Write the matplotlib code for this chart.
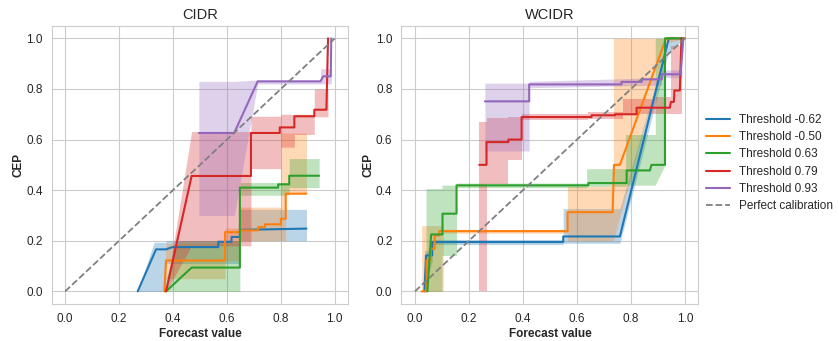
import matplotlib
matplotlib.use("Agg")
import matplotlib.pyplot as plt
import seaborn as sns

sns.set_style("whitegrid")
plt.rcParams["font.family"] = ["Liberation Sans", "DejaVu Sans"]

thresholds = ["Threshold -0.62", "Threshold -0.50", "Threshold 0.63", "Threshold 0.79", "Threshold 0.93"]
colors = ["#1f77b4", "#ff7f0e", "#2ca02c", "#d62728", "#9467bd"]
ticks = [0.0, 0.2, 0.4, 0.6, 0.8, 1.0]

# ---------------- CIDR ----------------
cidr_m062_x = [0.269, 0.337, 0.374, 0.398, 0.568, 0.568, 0.617, 0.617, 0.648, 0.648, 0.895]
cidr_m062_y = [0.0, 0.166, 0.166, 0.175, 0.175, 0.196, 0.196, 0.215, 0.215, 0.243, 0.248]
cidr_m062_bx = [0.269, 0.33, 0.374, 0.374, 0.648, 0.648, 0.895]
cidr_m062_lo = [0.0, 0.0, 0.0, 0.11, 0.11, 0.2, 0.2]
cidr_m062_hi = [0.0, 0.194, 0.194, 0.2, 0.2, 0.324, 0.324]

cidr_m050_x = [0.368, 0.374, 0.593, 0.593, 0.648, 0.648, 0.716, 0.716, 0.741, 0.741, 0.80, 0.80, 0.818, 0.818, 0.895]
cidr_m050_y = [0.0, 0.122, 0.122, 0.234, 0.234, 0.241, 0.241, 0.254, 0.254, 0.265, 0.265, 0.287, 0.287, 0.386, 0.386]
cidr_m050_bx = [0.368, 0.374, 0.593, 0.593, 0.648, 0.648, 0.80, 0.80, 0.818, 0.818, 0.895]
cidr_m050_lo = [0.0, 0.05, 0.05, 0.12, 0.12, 0.2, 0.2, 0.2, 0.2, 0.386, 0.386]
cidr_m050_hi = [0.0, 0.19, 0.19, 0.25, 0.25, 0.333, 0.333, 0.626, 0.626, 0.626, 0.626]

cidr_063_x = [0.374, 0.469, 0.648, 0.648, 0.79, 0.79, 0.831, 0.831, 0.942]
cidr_063_y = [0.0, 0.094, 0.094, 0.41, 0.41, 0.423, 0.423, 0.457, 0.457]
cidr_063_bx = [0.374, 0.42, 0.648, 0.648, 0.831, 0.831, 0.942]
cidr_063_lo = [0.0, 0.0, 0.0, 0.38, 0.38, 0.41, 0.41]
cidr_063_hi = [0.05, 0.2, 0.2, 0.43, 0.43, 0.525, 0.525]

cidr_079_x = [0.374, 0.469, 0.689, 0.689, 0.796, 0.796, 0.85, 0.85, 0.924, 0.924, 0.969, 0.975]
cidr_079_y = [0.0, 0.456, 0.456, 0.626, 0.626, 0.648, 0.648, 0.692, 0.692, 0.718, 0.718, 1.0]
cidr_079_bx = [0.374, 0.469, 0.689, 0.689, 0.80, 0.80, 0.85, 0.85, 0.924, 0.924, 0.975]
cidr_079_lo = [0.0, 0.18, 0.18, 0.485, 0.485, 0.57, 0.57, 0.62, 0.62, 0.69, 0.69]
cidr_079_hi = [0.0, 0.632, 0.632, 0.692, 0.692, 0.70, 0.70, 0.70, 0.70, 0.80, 0.80]

cidr_093_x = [0.496, 0.627, 0.714, 0.947, 0.957, 0.985, 0.987]
cidr_093_y = [0.626, 0.626, 0.83, 0.83, 0.85, 0.85, 1.0]
cidr_093_bx = [0.496, 0.627, 0.714, 0.947, 0.947, 0.987]
cidr_093_lo = [0.3, 0.3, 0.82, 0.82, 0.82, 0.82]
cidr_093_hi = [0.83, 0.83, 0.835, 0.835, 0.88, 0.88]

# ---------------- WCIDR ----------------
wcidr_m062_x = [0.035, 0.041, 0.064, 0.064, 0.549, 0.549, 0.759, 0.94, 1.0]
wcidr_m062_y = [0.0, 0.142, 0.142, 0.195, 0.195, 0.217, 0.217, 1.0, 1.0]
wcidr_m062_bx = [0.035, 0.064, 0.064, 0.549, 0.549, 0.759, 0.94, 1.0]
wcidr_m062_lo = [0.0, 0.12, 0.185, 0.185, 0.19, 0.19, 0.95, 1.0]
wcidr_m062_hi = [0.16, 0.16, 0.205, 0.205, 0.327, 0.327, 1.0, 1.0]

wcidr_m050_x = [0.025, 0.043, 0.043, 0.058, 0.058, 0.073, 0.073, 0.09, 0.09, 0.565, 0.565, 0.732, 0.737, 0.759, 0.93, 1.0]
wcidr_m050_y = [0.0, 0.0, 0.123, 0.123, 0.169, 0.169, 0.221, 0.221, 0.238, 0.238, 0.313, 0.313, 0.5, 0.5, 1.0, 1.0]
wcidr_m050_bx = [0.025, 0.105, 0.105, 0.565, 0.565, 0.735, 0.735, 0.9, 0.93, 1.0]
wcidr_m050_lo = [0.0, 0.0, 0.23, 0.23, 0.2, 0.2, 0.2, 0.85, 0.98, 1.0]
wcidr_m050_hi = [0.26, 0.26, 0.245, 0.245, 0.415, 0.415, 1.0, 1.0, 1.0, 1.0]

wcidr_063_x = [0.046, 0.060, 0.102, 0.102, 0.154, 0.154, 0.642, 0.642, 0.784, 0.784, 0.87, 0.876, 0.926, 0.926, 0.994]
wcidr_063_y = [0.0, 0.225, 0.225, 0.307, 0.307, 0.419, 0.419, 0.428, 0.428, 0.478, 0.478, 0.50, 0.50, 1.0, 1.0]
wcidr_063_bx = [0.041, 0.10, 0.10, 0.154, 0.154, 0.636, 0.636, 0.78, 0.78, 0.89, 0.89, 0.926]
wcidr_063_lo = [0.0, 0.0, 0.142, 0.142, 0.41, 0.41, 0.415, 0.415, 0.42, 0.42, 0.42, 0.5]
wcidr_063_hi = [0.406, 0.406, 0.42, 0.42, 0.428, 0.428, 0.485, 0.485, 0.62, 0.62, 1.0, 1.0]

wcidr_079_x = [0.238, 0.265, 0.265, 0.346, 0.346, 0.395, 0.395, 0.654, 0.654, 0.741, 0.741, 0.821, 0.821,
               0.944, 0.948, 0.959, 0.961, 0.981, 0.987]
wcidr_079_y = [0.5, 0.5, 0.59, 0.59, 0.6, 0.6, 0.689, 0.689, 0.696, 0.696, 0.70, 0.70, 0.726,
               0.726, 0.749, 0.749, 0.794, 0.794, 1.0]
wcidr_079_bx = [0.238, 0.265, 0.265, 0.346, 0.346, 0.395, 0.395, 0.64, 0.64, 0.77, 0.77, 0.88, 0.88, 0.95, 0.95, 0.988]
wcidr_079_lo = [0.0, 0.0, 0.426, 0.426, 0.518, 0.518, 0.678, 0.678, 0.68, 0.68, 0.70, 0.70, 0.70, 0.70, 0.70, 0.70]
wcidr_079_hi = [0.67, 0.67, 0.685, 0.685, 0.69, 0.69, 0.70, 0.70, 0.71, 0.71, 0.76, 0.76, 0.77, 0.77, 0.97, 0.97]

wcidr_093_x = [0.259, 0.423, 0.423, 0.765, 0.765, 0.84, 0.84, 0.914, 0.914, 0.984, 0.994]
wcidr_093_y = [0.751, 0.751, 0.818, 0.818, 0.828, 0.828, 0.838, 0.838, 0.858, 0.858, 1.0]
wcidr_093_bx = [0.259, 0.423, 0.423, 0.914, 0.914, 0.99]
wcidr_093_lo = [0.555, 0.555, 0.805, 0.815, 0.845, 0.845]
wcidr_093_hi = [0.823, 0.823, 0.83, 0.845, 0.875, 0.875]

panels = [
    ("CIDR", [
        (cidr_m062_x, cidr_m062_y, cidr_m062_bx, cidr_m062_lo, cidr_m062_hi),
        (cidr_m050_x, cidr_m050_y, cidr_m050_bx, cidr_m050_lo, cidr_m050_hi),
        (cidr_063_x, cidr_063_y, cidr_063_bx, cidr_063_lo, cidr_063_hi),
        (cidr_079_x, cidr_079_y, cidr_079_bx, cidr_079_lo, cidr_079_hi),
        (cidr_093_x, cidr_093_y, cidr_093_bx, cidr_093_lo, cidr_093_hi),
    ]),
    ("WCIDR", [
        (wcidr_m062_x, wcidr_m062_y, wcidr_m062_bx, wcidr_m062_lo, wcidr_m062_hi),
        (wcidr_m050_x, wcidr_m050_y, wcidr_m050_bx, wcidr_m050_lo, wcidr_m050_hi),
        (wcidr_063_x, wcidr_063_y, wcidr_063_bx, wcidr_063_lo, wcidr_063_hi),
        (wcidr_079_x, wcidr_079_y, wcidr_079_bx, wcidr_079_lo, wcidr_079_hi),
        (wcidr_093_x, wcidr_093_y, wcidr_093_bx, wcidr_093_lo, wcidr_093_hi),
    ]),
]

fig = plt.figure(figsize=(8.39, 3.41), dpi=100)
axes = [fig.add_axes([0.0616, 0.1085, 0.3535, 0.8161]),
        fig.add_axes([0.4785, 0.1085, 0.3540, 0.8161])]

for ax, (title, series) in zip(axes, panels):
    for (x, y, bx, lo, hi), color, label in zip(series, colors, thresholds):
        ax.fill_between(bx, lo, hi, color=color, alpha=0.3, linewidth=0, zorder=1)
        ax.plot(x, y, color=color, lw=1.5, label=label, zorder=3)
    ax.plot([0, 1], [0, 1], color="gray", ls="--", lw=1.3, label="Perfect calibration", zorder=4)
    ax.set_xlim(-0.05, 1.05)
    ax.set_ylim(-0.05, 1.05)
    ax.set_xticks(ticks)
    ax.set_yticks(ticks)
    ax.set_xticklabels([f"{t:.1f}" for t in ticks], fontsize=8.5)
    ax.set_yticklabels([f"{t:.1f}" for t in ticks], fontsize=8.5)
    ax.tick_params(pad=3)
    ax.set_title(title, fontsize=10.5, pad=5)
    ax.set_xlabel("Forecast value", fontsize=8.5, fontweight="bold", labelpad=2)
    ax.set_ylabel("CEP", fontsize=8.5, fontweight="bold", labelpad=1)

handles, labels = axes[1].get_legend_handles_labels()
fig.legend(handles, labels, loc="center left", bbox_to_anchor=(0.836, 0.522),
           frameon=False, fontsize=8.5, handlelength=2.0, labelspacing=0.45,
           handletextpad=0.8, borderaxespad=0.0)

fig.savefig("out.png", dpi=100)
